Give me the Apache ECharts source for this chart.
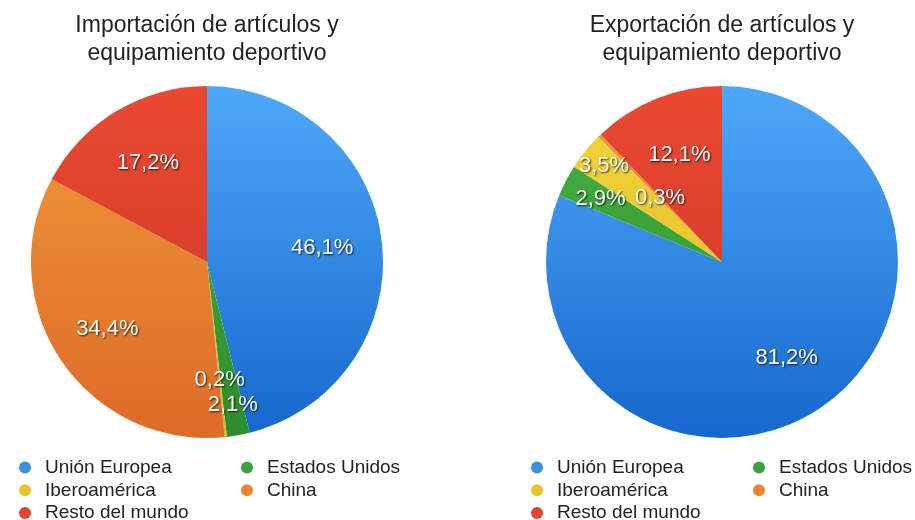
<!DOCTYPE html>
<html>
<head>
<meta charset="utf-8">
<script src="https://cdn.jsdelivr.net/npm/echarts@6/dist/echarts.min.js"></script>
<style>
  html, body { margin: 0; padding: 0; background: #fff; }
  #chart { width: 915px; height: 520px; }
</style>
</head>
<body>
<div id="chart"></div>
<script>
// categories (draw order, clockwise from 12 o'clock)
var regions = ["Unión Europea", "Estados Unidos", "Iberoamérica", "China", "Resto del mundo"];
var importShare = [46.1, 2.1, 0.2, 34.4, 17.2];
var exportShare = [81.2, 2.9, 3.5, 0.3, 12.1];
var importTitle = "Importación de artículos y\nequipamiento deportivo";
var exportTitle = "Exportación de artículos y\nequipamiento deportivo";

// colours: flat (legend) and top/bottom of the shaded pie
var flatColors = ["#3a8ee8", "#3aa23a", "#e8c52e", "#e8852e", "#e2442f"];
var topColors = ["#4ea8f8", "#48b343", "#f3d63c", "#ef9b39", "#ea4931"];
var bottomColors = ["#1568cc", "#2e8c2c", "#deb61e", "#de6a27", "#c93525"];

// label distance from centre (px), per slice
var importLabelR = [116, 145, 119, 120, 115];
var exportLabelR = [116, 137, 152, 89, 115];

var R = 176;
var leftCenter = [207, 262];
var rightCenter = [722, 262];

function shade(i) {
  return {
    type: "linear", x: 0, y: 87, x2: 0, y2: 438, global: true,
    colorStops: [{ offset: 0, color: topColors[i] }, { offset: 1, color: bottomColors[i] }]
  };
}

function pieData(values) {
  return regions.map(function (name, i) {
    return { name: name, value: values[i], itemStyle: { color: shade(i) } };
  });
}

function pieSeries(values, center, labelR) {
  return {
    type: "pie",
    center: center,
    radius: [0, R],
    startAngle: 90,
    clockwise: true,
    avoidLabelOverlap: false,
    silent: true,
    itemStyle: { borderWidth: 0 },
    label: {
      show: true,
      position: "inside",
      color: "#fff",
      fontFamily: "Liberation Sans",
      fontSize: 22,
      textShadowColor: "rgba(0,0,0,0.8)",
      textShadowBlur: 2,
      textShadowOffsetX: 1,
      textShadowOffsetY: 1,
      formatter: function (p) { return p.value.toFixed(1).replace(".", ",") + "%"; }
    },
    labelLine: { show: false },
    // push each inside label out along its radius
    labelLayout: function (p) {
      var lx = p.labelRect.x + p.labelRect.width / 2;
      var ly = p.labelRect.y + p.labelRect.height / 2;
      var vx = lx - center[0], vy = ly - center[1];
      var d = Math.sqrt(vx * vx + vy * vy) || 1;
      var k = labelR[p.dataIndex] / d - 1;
      return { dx: vx * k, dy: vy * k };
    },
    data: pieData(values)
  };
}

function legendCol(left, names) {
  return {
    orient: "vertical",
    left: left,
    top: 458,
    height: 70,
    padding: 0,
    icon: "circle",
    itemWidth: 30,
    itemHeight: 12,
    itemGap: 3.8,
    selectedMode: false,
    textStyle: { fontFamily: "Liberation Sans", fontSize: 19, color: "#222", lineHeight: 19 },
    data: names.map(function (n) {
      return { name: n, itemStyle: { color: flatColors[regions.indexOf(n)] } };
    })
  };
}

var titleStyle = { fontFamily: "Liberation Sans", fontSize: 23, fontWeight: "normal", color: "#222", lineHeight: 28 };

var chart = echarts.init(document.getElementById("chart"));
chart.setOption({
  animation: false,
  title: [
    { text: importTitle, left: 207, top: 12, textAlign: "center", padding: 0, textStyle: titleStyle },
    { text: exportTitle, left: 722, top: 12, textAlign: "center", padding: 0, textStyle: titleStyle }
  ],
  legend: [
    legendCol(19, ["Unión Europea", "Iberoamérica", "Resto del mundo"]),
    legendCol(241, ["Estados Unidos", "China"]),
    legendCol(531, ["Unión Europea", "Iberoamérica", "Resto del mundo"]),
    legendCol(753, ["Estados Unidos", "China"])
  ],
  series: [
    pieSeries(importShare, leftCenter, importLabelR),
    pieSeries(exportShare, rightCenter, exportLabelR)
  ]
});
</script>
</body>
</html>
